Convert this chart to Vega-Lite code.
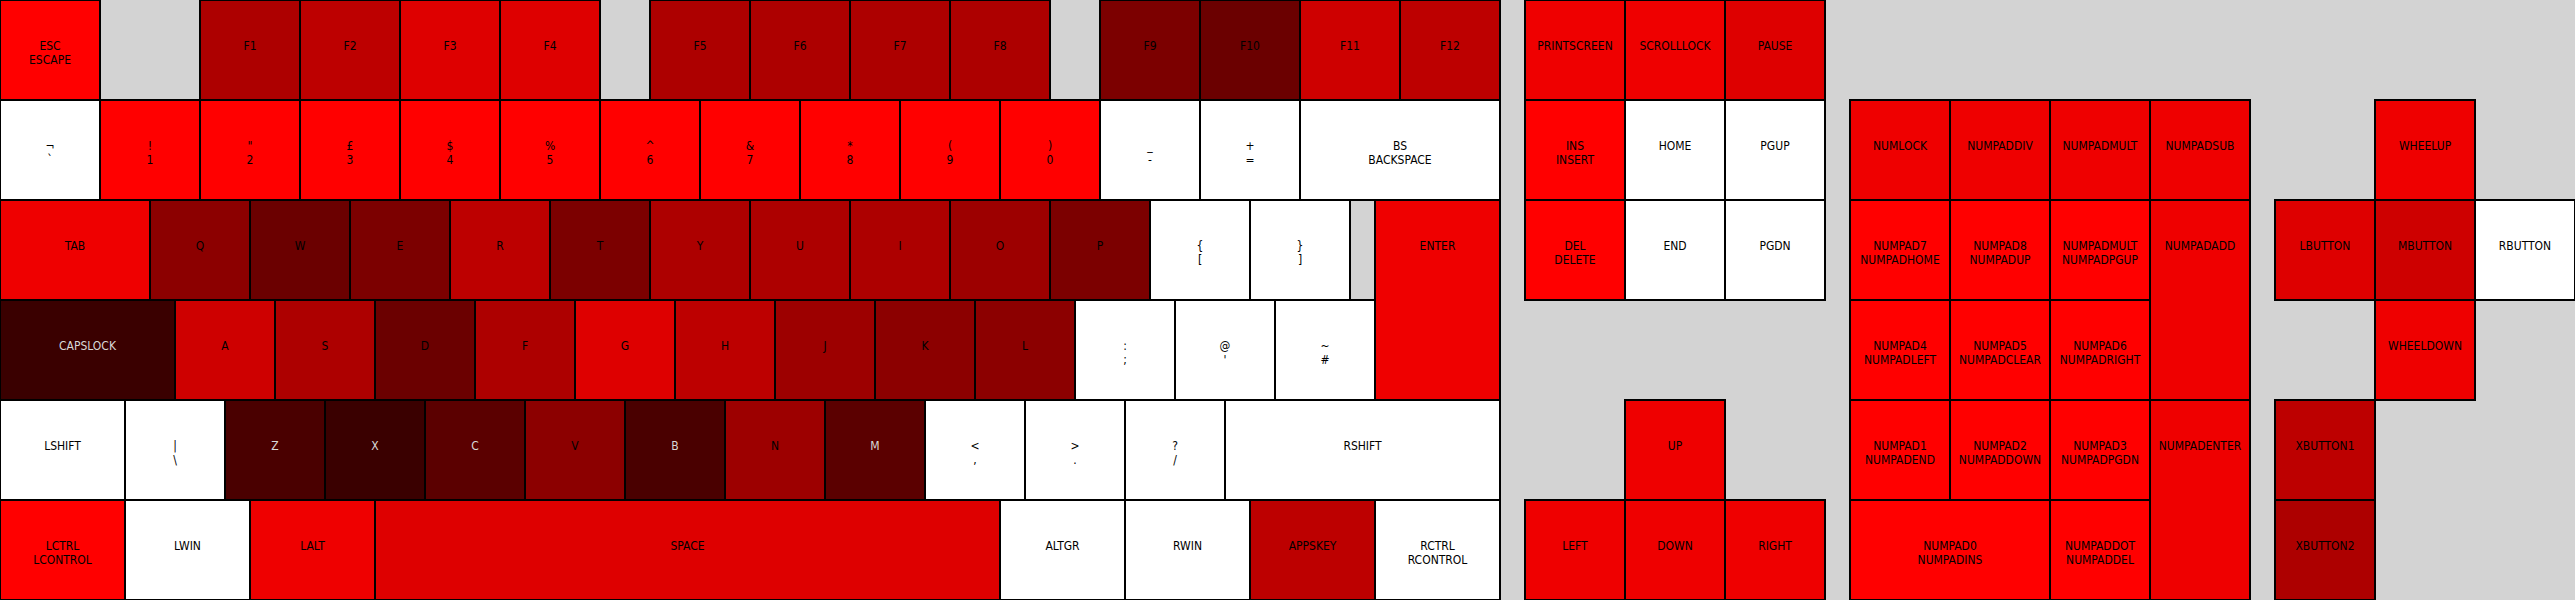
{
  "$schema": "https://vega.github.io/schema/vega-lite/v6.json",
  "width": 2575,
  "height": 600,
  "autosize": {"type": "none"},
  "padding": 0,
  "background": "#d3d3d3",
  "config": {"view": {"stroke": null}},
  "data": {"values": [
    {"label": "ESC\nESCAPE", "x0": 0, "x1": 1, "y0": 0, "y1": 1, "count": 1},
    {"label": "F1", "x0": 2, "x1": 3, "y0": 0, "y1": 1, "count": 6},
    {"label": "F2", "x0": 3, "x1": 4, "y0": 0, "y1": 1, "count": 5},
    {"label": "F3", "x0": 4, "x1": 5, "y0": 0, "y1": 1, "count": 3},
    {"label": "F4", "x0": 5, "x1": 6, "y0": 0, "y1": 1, "count": 3},
    {"label": "F5", "x0": 6.5, "x1": 7.5, "y0": 0, "y1": 1, "count": 6},
    {"label": "F6", "x0": 7.5, "x1": 8.5, "y0": 0, "y1": 1, "count": 6},
    {"label": "F7", "x0": 8.5, "x1": 9.5, "y0": 0, "y1": 1, "count": 6},
    {"label": "F8", "x0": 9.5, "x1": 10.5, "y0": 0, "y1": 1, "count": 6},
    {"label": "F9", "x0": 11, "x1": 12, "y0": 0, "y1": 1, "count": 9},
    {"label": "F10", "x0": 12, "x1": 13, "y0": 0, "y1": 1, "count": 10},
    {"label": "F11", "x0": 13, "x1": 14, "y0": 0, "y1": 1, "count": 4},
    {"label": "F12", "x0": 14, "x1": 15, "y0": 0, "y1": 1, "count": 5},
    {"label": "PRINTSCREEN", "x0": 15.25, "x1": 16.25, "y0": 0, "y1": 1, "count": 2},
    {"label": "SCROLLLOCK", "x0": 16.25, "x1": 17.25, "y0": 0, "y1": 1, "count": 2},
    {"label": "PAUSE", "x0": 17.25, "x1": 18.25, "y0": 0, "y1": 1, "count": 3},

    {"label": "¬\n`", "x0": 0, "x1": 1, "y0": 1, "y1": 2, "count": 0},
    {"label": "!\n1", "x0": 1, "x1": 2, "y0": 1, "y1": 2, "count": 1},
    {"label": "\"\n2", "x0": 2, "x1": 3, "y0": 1, "y1": 2, "count": 1},
    {"label": "£\n3", "x0": 3, "x1": 4, "y0": 1, "y1": 2, "count": 1},
    {"label": "$\n4", "x0": 4, "x1": 5, "y0": 1, "y1": 2, "count": 1},
    {"label": "%\n5", "x0": 5, "x1": 6, "y0": 1, "y1": 2, "count": 1},
    {"label": "^\n6", "x0": 6, "x1": 7, "y0": 1, "y1": 2, "count": 1},
    {"label": "&\n7", "x0": 7, "x1": 8, "y0": 1, "y1": 2, "count": 1},
    {"label": "*\n8", "x0": 8, "x1": 9, "y0": 1, "y1": 2, "count": 1},
    {"label": "(\n9", "x0": 9, "x1": 10, "y0": 1, "y1": 2, "count": 1},
    {"label": ")\n0", "x0": 10, "x1": 11, "y0": 1, "y1": 2, "count": 1},
    {"label": "_\n-", "x0": 11, "x1": 12, "y0": 1, "y1": 2, "count": 0},
    {"label": "+\n=", "x0": 12, "x1": 13, "y0": 1, "y1": 2, "count": 0},
    {"label": "BS\nBACKSPACE", "x0": 13, "x1": 15, "y0": 1, "y1": 2, "count": 0},
    {"label": "INS\nINSERT", "x0": 15.25, "x1": 16.25, "y0": 1, "y1": 2, "count": 1},
    {"label": "HOME", "x0": 16.25, "x1": 17.25, "y0": 1, "y1": 2, "count": 0},
    {"label": "PGUP", "x0": 17.25, "x1": 18.25, "y0": 1, "y1": 2, "count": 0},
    {"label": "NUMLOCK", "x0": 18.5, "x1": 19.5, "y0": 1, "y1": 2, "count": 2},
    {"label": "NUMPADDIV", "x0": 19.5, "x1": 20.5, "y0": 1, "y1": 2, "count": 2},
    {"label": "NUMPADMULT", "x0": 20.5, "x1": 21.5, "y0": 1, "y1": 2, "count": 2},
    {"label": "NUMPADSUB", "x0": 21.5, "x1": 22.5, "y0": 1, "y1": 2, "count": 2},
    {"label": "WHEELUP", "x0": 23.75, "x1": 24.75, "y0": 1, "y1": 2, "count": 2},

    {"label": "TAB", "x0": 0, "x1": 1.5, "y0": 2, "y1": 3, "count": 2},
    {"label": "Q", "x0": 1.5, "x1": 2.5, "y0": 2, "y1": 3, "count": 8},
    {"label": "W", "x0": 2.5, "x1": 3.5, "y0": 2, "y1": 3, "count": 10},
    {"label": "E", "x0": 3.5, "x1": 4.5, "y0": 2, "y1": 3, "count": 9},
    {"label": "R", "x0": 4.5, "x1": 5.5, "y0": 2, "y1": 3, "count": 5},
    {"label": "T", "x0": 5.5, "x1": 6.5, "y0": 2, "y1": 3, "count": 9},
    {"label": "Y", "x0": 6.5, "x1": 7.5, "y0": 2, "y1": 3, "count": 6},
    {"label": "U", "x0": 7.5, "x1": 8.5, "y0": 2, "y1": 3, "count": 6},
    {"label": "I", "x0": 8.5, "x1": 9.5, "y0": 2, "y1": 3, "count": 6},
    {"label": "O", "x0": 9.5, "x1": 10.5, "y0": 2, "y1": 3, "count": 7},
    {"label": "P", "x0": 10.5, "x1": 11.5, "y0": 2, "y1": 3, "count": 9},
    {"label": "{\n[", "x0": 11.5, "x1": 12.5, "y0": 2, "y1": 3, "count": 0},
    {"label": "}\n]", "x0": 12.5, "x1": 13.5, "y0": 2, "y1": 3, "count": 0},
    {"label": "ENTER", "x0": 13.75, "x1": 15, "y0": 2, "y1": 4, "count": 2},
    {"label": "DEL\nDELETE", "x0": 15.25, "x1": 16.25, "y0": 2, "y1": 3, "count": 1},
    {"label": "END", "x0": 16.25, "x1": 17.25, "y0": 2, "y1": 3, "count": 0},
    {"label": "PGDN", "x0": 17.25, "x1": 18.25, "y0": 2, "y1": 3, "count": 0},
    {"label": "NUMPAD7\nNUMPADHOME", "x0": 18.5, "x1": 19.5, "y0": 2, "y1": 3, "count": 1},
    {"label": "NUMPAD8\nNUMPADUP", "x0": 19.5, "x1": 20.5, "y0": 2, "y1": 3, "count": 1},
    {"label": "NUMPADMULT\nNUMPADPGUP", "x0": 20.5, "x1": 21.5, "y0": 2, "y1": 3, "count": 1},
    {"label": "NUMPADADD", "x0": 21.5, "x1": 22.5, "y0": 2, "y1": 4, "count": 2},
    {"label": "LBUTTON", "x0": 22.75, "x1": 23.75, "y0": 2, "y1": 3, "count": 3},
    {"label": "MBUTTON", "x0": 23.75, "x1": 24.75, "y0": 2, "y1": 3, "count": 4},
    {"label": "RBUTTON", "x0": 24.75, "x1": 25.75, "y0": 2, "y1": 3, "count": 0},

    {"label": "CAPSLOCK", "x0": 0, "x1": 1.75, "y0": 3, "y1": 4, "count": 13},
    {"label": "A", "x0": 1.75, "x1": 2.75, "y0": 3, "y1": 4, "count": 4},
    {"label": "S", "x0": 2.75, "x1": 3.75, "y0": 3, "y1": 4, "count": 6},
    {"label": "D", "x0": 3.75, "x1": 4.75, "y0": 3, "y1": 4, "count": 10},
    {"label": "F", "x0": 4.75, "x1": 5.75, "y0": 3, "y1": 4, "count": 6},
    {"label": "G", "x0": 5.75, "x1": 6.75, "y0": 3, "y1": 4, "count": 3},
    {"label": "H", "x0": 6.75, "x1": 7.75, "y0": 3, "y1": 4, "count": 5},
    {"label": "J", "x0": 7.75, "x1": 8.75, "y0": 3, "y1": 4, "count": 7},
    {"label": "K", "x0": 8.75, "x1": 9.75, "y0": 3, "y1": 4, "count": 8},
    {"label": "L", "x0": 9.75, "x1": 10.75, "y0": 3, "y1": 4, "count": 8},
    {"label": ":\n;", "x0": 10.75, "x1": 11.75, "y0": 3, "y1": 4, "count": 0},
    {"label": "@\n'", "x0": 11.75, "x1": 12.75, "y0": 3, "y1": 4, "count": 0},
    {"label": "~\n#", "x0": 12.75, "x1": 13.75, "y0": 3, "y1": 4, "count": 0},
    {"label": "NUMPAD4\nNUMPADLEFT", "x0": 18.5, "x1": 19.5, "y0": 3, "y1": 4, "count": 1},
    {"label": "NUMPAD5\nNUMPADCLEAR", "x0": 19.5, "x1": 20.5, "y0": 3, "y1": 4, "count": 1},
    {"label": "NUMPAD6\nNUMPADRIGHT", "x0": 20.5, "x1": 21.5, "y0": 3, "y1": 4, "count": 1},
    {"label": "WHEELDOWN", "x0": 23.75, "x1": 24.75, "y0": 3, "y1": 4, "count": 2},

    {"label": "LSHIFT", "x0": 0, "x1": 1.25, "y0": 4, "y1": 5, "count": 0},
    {"label": "|\n\\", "x0": 1.25, "x1": 2.25, "y0": 4, "y1": 5, "count": 0},
    {"label": "Z", "x0": 2.25, "x1": 3.25, "y0": 4, "y1": 5, "count": 12},
    {"label": "X", "x0": 3.25, "x1": 4.25, "y0": 4, "y1": 5, "count": 13},
    {"label": "C", "x0": 4.25, "x1": 5.25, "y0": 4, "y1": 5, "count": 11},
    {"label": "V", "x0": 5.25, "x1": 6.25, "y0": 4, "y1": 5, "count": 8},
    {"label": "B", "x0": 6.25, "x1": 7.25, "y0": 4, "y1": 5, "count": 12},
    {"label": "N", "x0": 7.25, "x1": 8.25, "y0": 4, "y1": 5, "count": 7},
    {"label": "M", "x0": 8.25, "x1": 9.25, "y0": 4, "y1": 5, "count": 11},
    {"label": "<\n,", "x0": 9.25, "x1": 10.25, "y0": 4, "y1": 5, "count": 0},
    {"label": ">\n.", "x0": 10.25, "x1": 11.25, "y0": 4, "y1": 5, "count": 0},
    {"label": "?\n/", "x0": 11.25, "x1": 12.25, "y0": 4, "y1": 5, "count": 0},
    {"label": "RSHIFT", "x0": 12.25, "x1": 15, "y0": 4, "y1": 5, "count": 0},
    {"label": "UP", "x0": 16.25, "x1": 17.25, "y0": 4, "y1": 5, "count": 2},
    {"label": "NUMPAD1\nNUMPADEND", "x0": 18.5, "x1": 19.5, "y0": 4, "y1": 5, "count": 1},
    {"label": "NUMPAD2\nNUMPADDOWN", "x0": 19.5, "x1": 20.5, "y0": 4, "y1": 5, "count": 1},
    {"label": "NUMPAD3\nNUMPADPGDN", "x0": 20.5, "x1": 21.5, "y0": 4, "y1": 5, "count": 1},
    {"label": "NUMPADENTER", "x0": 21.5, "x1": 22.5, "y0": 4, "y1": 6, "count": 2},
    {"label": "XBUTTON1", "x0": 22.75, "x1": 23.75, "y0": 4, "y1": 5, "count": 5},

    {"label": "LCTRL\nLCONTROL", "x0": 0, "x1": 1.25, "y0": 5, "y1": 6, "count": 1},
    {"label": "LWIN", "x0": 1.25, "x1": 2.5, "y0": 5, "y1": 6, "count": 0},
    {"label": "LALT", "x0": 2.5, "x1": 3.75, "y0": 5, "y1": 6, "count": 2},
    {"label": "SPACE", "x0": 3.75, "x1": 10, "y0": 5, "y1": 6, "count": 3},
    {"label": "ALTGR", "x0": 10, "x1": 11.25, "y0": 5, "y1": 6, "count": 0},
    {"label": "RWIN", "x0": 11.25, "x1": 12.5, "y0": 5, "y1": 6, "count": 0},
    {"label": "APPSKEY", "x0": 12.5, "x1": 13.75, "y0": 5, "y1": 6, "count": 5},
    {"label": "RCTRL\nRCONTROL", "x0": 13.75, "x1": 15, "y0": 5, "y1": 6, "count": 0},
    {"label": "LEFT", "x0": 15.25, "x1": 16.25, "y0": 5, "y1": 6, "count": 2},
    {"label": "DOWN", "x0": 16.25, "x1": 17.25, "y0": 5, "y1": 6, "count": 2},
    {"label": "RIGHT", "x0": 17.25, "x1": 18.25, "y0": 5, "y1": 6, "count": 2},
    {"label": "NUMPAD0\nNUMPADINS", "x0": 18.5, "x1": 20.5, "y0": 5, "y1": 6, "count": 1},
    {"label": "NUMPADDOT\nNUMPADDEL", "x0": 20.5, "x1": 21.5, "y0": 5, "y1": 6, "count": 1},
    {"label": "XBUTTON2", "x0": 22.75, "x1": 23.75, "y0": 5, "y1": 6, "count": 6}
  ]},
  "layer": [
    {
      "mark": {"type": "rect", "stroke": "#000000", "strokeWidth": 2},
      "encoding": {
        "x": {"field": "x0", "type": "quantitative", "scale": {"domain": [0, 25.75], "nice": false, "zero": false}, "axis": null},
        "x2": {"field": "x1"},
        "y": {"field": "y0", "type": "quantitative", "scale": {"domain": [0, 6], "nice": false, "zero": false, "reverse": true}, "axis": null},
        "y2": {"field": "y1"},
        "color": {"field": "count", "type": "quantitative", "scale": {"domain": [0, 1, 13], "range": ["#ffffff", "#ff0000", "#3a0000"], "interpolate": "rgb"}, "legend": null}
      }
    },
    {
      "transform": [
        {"fold": ["x0", "x1"], "as": ["edge", "xpos"]},
        {"aggregate": [{"op": "mean", "field": "xpos", "as": "cx"}], "groupby": ["label", "y0", "count"]}
      ],
      "mark": {"type": "text", "align": "center", "baseline": "middle", "dy": 46, "lineBreak": "\n", "lineHeight": 14, "font": "DejaVu Sans Condensed, Liberation Sans Narrow, DejaVu Sans, sans-serif", "fontSize": 12},
      "encoding": {
        "x": {"field": "cx", "type": "quantitative", "axis": null},
        "y": {"field": "y0", "type": "quantitative", "axis": null},
        "text": {"field": "label"},
        "color": {"condition": {"test": "datum.count >= 10.5", "value": "#d8d8d8"}, "value": "#000000"}
      }
    }
  ]
}
